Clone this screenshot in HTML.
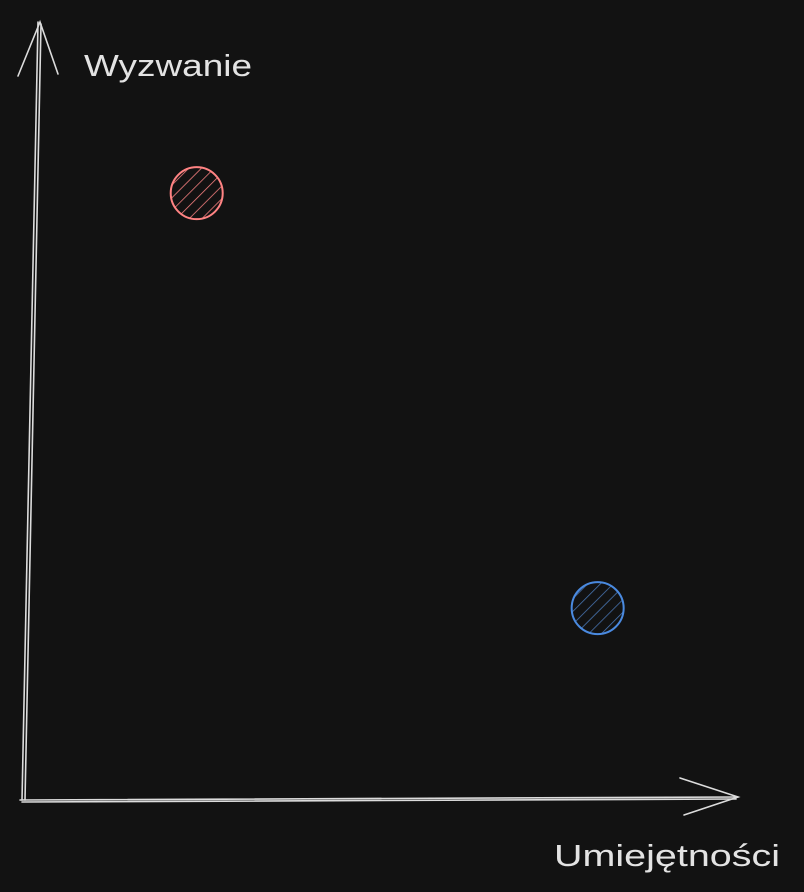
<!DOCTYPE html>
<html><head><meta charset="utf-8"><style>
html,body{margin:0;padding:0;background:#121212;}
svg{display:block}
text{font-family:"Liberation Sans",sans-serif;fill:#e3e3e3;font-size:31px}
</style></head><body>
<svg id="chart" width="804" height="892" viewBox="0 0 804 892">
<defs>
<pattern id="hatchRed" patternUnits="userSpaceOnUse" width="9" height="9" patternTransform="rotate(45)">
<line x1="0" y1="0" x2="0" y2="9" stroke="#ff8383" stroke-width="1.5"/></pattern>
<pattern id="hatchBlue" patternUnits="userSpaceOnUse" width="9" height="9" patternTransform="rotate(45)">
<line x1="0" y1="0" x2="0" y2="9" stroke="#4a77b5" stroke-width="1.5"/></pattern>
</defs>
<g stroke="#dcdcdc" stroke-width="1.6" fill="none" stroke-linecap="round">
<path d="M22 800 L38 22"/><path d="M25 800 L41 24"/>
<path d="M18 76 L40 22 L58 74"/>
</g>
<g stroke="#dcdcdc" stroke-width="1.6" fill="none" stroke-linecap="round">
<path d="M20 800 L738 797"/><path d="M22 802 L736 799"/>
<path d="M680 778 L738 797 L684 815"/>
</g>
<text x="84" y="76" textLength="168" lengthAdjust="spacingAndGlyphs">Wyzwanie</text>
<text x="554" y="866" textLength="226" lengthAdjust="spacingAndGlyphs">Umiejętności</text>
<g id="points"></g>
</svg>
<script>
const labels = ["A", "B"];
const xValues = [24.4, 80.4];
const yValues = [77.8, 24.6];
const colors = ["#ff8383", "#4a8ae0"];
const fills = ["url(#hatchRed)", "url(#hatchBlue)"];
const x0 = 22, x1 = 738, y0 = 800, y1 = 20;
function xs(v){ return x0 + v / 100 * (x1 - x0); }
function ys(v){ return y0 - v / 100 * (y0 - y1); }
const g = document.getElementById('points');
const ns = 'http://www.w3.org/2000/svg';
for (let i = 0; i < xValues.length; i++) {
  const c = document.createElementNS(ns, 'circle');
  c.setAttribute('cx', xs(xValues[i]));
  c.setAttribute('cy', ys(yValues[i]));
  c.setAttribute('r', 26);
  c.setAttribute('fill', fills[i]);
  c.setAttribute('stroke', colors[i]);
  c.setAttribute('stroke-width', 2);
  
  
  g.appendChild(c);
}
</script>
</body></html>
